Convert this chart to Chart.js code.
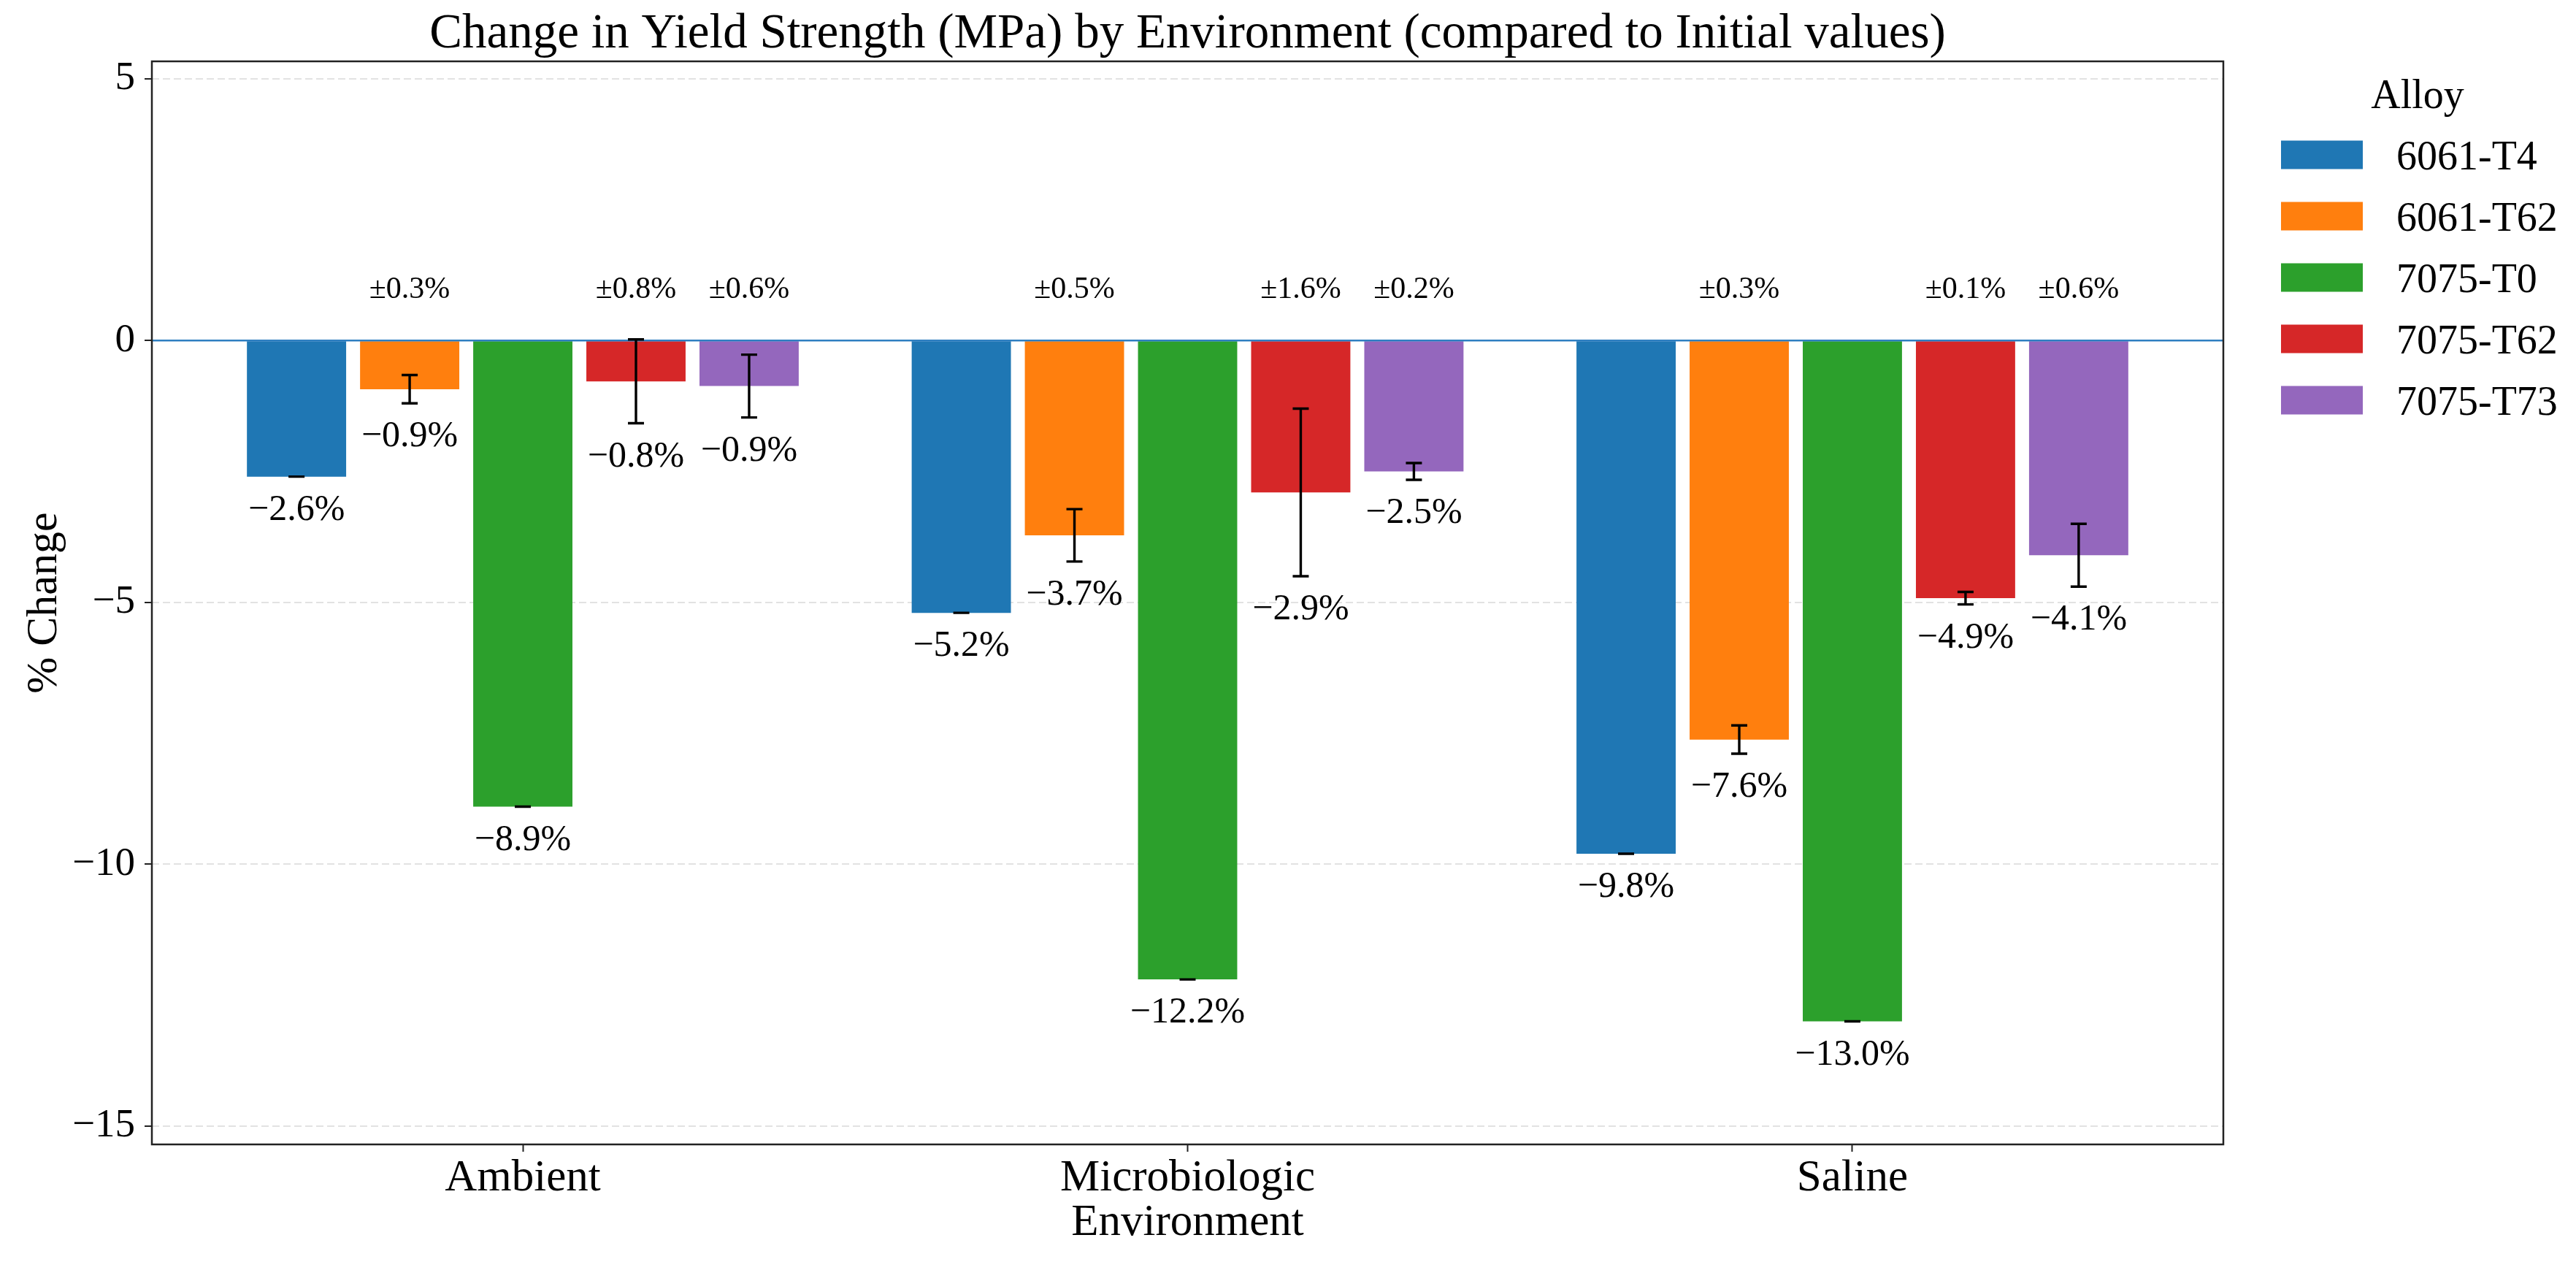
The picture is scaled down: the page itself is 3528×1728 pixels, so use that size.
<!DOCTYPE html>
<html>
<head>
<meta charset="utf-8">
<script src="https://cdn.jsdelivr.net/npm/chart.js@4.4.0/dist/chart.umd.min.js"></script>
<style>
  html, body { margin: 0; padding: 0; background: #ffffff; }
  canvas { display: block; }
</style>
</head>
<body>
<canvas id="c" width="3528" height="1728" style="width:3528px;height:1728px"></canvas>
<script>
// ---------------- data ----------------
const chartTitle = 'Change in Yield Strength (MPa) by Environment (compared to Initial values)';
const xTitle = 'Environment';
const yTitle = '% Change';
const legendTitle = 'Alloy';
const environments = ['Ambient', 'Microbiologic', 'Saline'];
const alloys = ['6061-T4', '6061-T62', '7075-T0', '7075-T62', '7075-T73'];
const colors = ['#1f77b4', '#ff7f0e', '#2ca02c', '#d62728', '#9467bd'];

const change_6061_T4  = [-2.6, -5.2, -9.8];
const change_6061_T62 = [-0.93, -3.72, -7.62];
const change_7075_T0  = [-8.9, -12.2, -13.0];
const change_7075_T62 = [-0.78, -2.9, -4.92];
const change_7075_T73 = [-0.87, -2.5, -4.1];

const err_6061_T4  = [0, 0, 0];
const err_6061_T62 = [0.27, 0.5, 0.27];
const err_7075_T0  = [0, 0, 0];
const err_7075_T62 = [0.8, 1.6, 0.12];
const err_7075_T73 = [0.6, 0.16, 0.6];

const yTicks = [5, 0, -5, -10, -15];
const yMin = -15.35, yMax = 5.33;

const seriesValues = [change_6061_T4, change_6061_T62, change_7075_T0, change_7075_T62, change_7075_T73];
const seriesErrors = [err_6061_T4, err_6061_T62, err_7075_T0, err_7075_T62, err_7075_T73];

// ---------------- styling ----------------
const FONT = "'Liberation Serif', 'Times New Roman', serif";
const MINUS = '\u2212';
const fmtTick = v => (v < 0 ? MINUS + Math.abs(v) : String(v));
const fmtPct = v => (v < 0 ? MINUS : '') + Math.abs(v).toFixed(1) + '%';

// category scale with matplotlib-like side margins
class PaddedCategoryScale extends Chart.CategoryScale {
  static id = 'paddedCategory';
  static defaults = Chart.CategoryScale.defaults;
  buildTicks() {
    const t = super.buildTicks();
    this._startValue -= 0.058;
    this._valueRange += 0.116;
    return t;
  }
}
Chart.register(PaddedCategoryScale);

const deco = {
  id: 'deco',
  afterDatasetsDraw(chart) {
    const { ctx, chartArea: a, scales: { y } } = chart;
    ctx.save();
    // zero reference line
    const y0 = y.getPixelForValue(0);
    ctx.strokeStyle = '#2f7fc1';
    ctx.lineWidth = 2.5;
    ctx.beginPath(); ctx.moveTo(a.left, y0); ctx.lineTo(a.right, y0); ctx.stroke();

    chart.data.datasets.forEach((ds, i) => {
      const meta = chart.getDatasetMeta(i);
      meta.data.forEach((bar, j) => {
        const v = ds.data[j];
        const e = ds.errors[j];
        const x = bar.x;
        const yLo = y.getPixelForValue(v - e);
        const yHi = y.getPixelForValue(v + e);
        // error bar
        ctx.strokeStyle = '#000';
        ctx.lineWidth = 3.4;
        ctx.beginPath();
        ctx.moveTo(x, yLo); ctx.lineTo(x, yHi);
        ctx.moveTo(x - 11, yLo); ctx.lineTo(x + 11, yLo);
        ctx.moveTo(x - 11, yHi); ctx.lineTo(x + 11, yHi);
        ctx.stroke();
        // value label
        ctx.fillStyle = '#000';
        ctx.textAlign = 'center';
        ctx.textBaseline = 'middle';
        ctx.font = '50px ' + FONT;
        ctx.fillText(fmtPct(v), x, yLo + 46);
        // error label
        if (e > 0) {
          ctx.font = '42px ' + FONT;
          ctx.fillText('\u00B1' + e.toFixed(1) + '%', x, y.getPixelForValue(0.96));
        }
      });
    });
    ctx.restore();
  },
  afterDraw(chart) {
    const { ctx, chartArea: a } = chart;
    ctx.save();
    // frame
    ctx.strokeStyle = '#222';
    ctx.lineWidth = 2.5;
    ctx.strokeRect(a.left, a.top, a.right - a.left, a.bottom - a.top);
    // title
    ctx.fillStyle = '#000';
    ctx.textAlign = 'center';
    ctx.textBaseline = 'alphabetic';
    ctx.font = '67px ' + FONT;
    ctx.fillText(chartTitle, (a.left + a.right) / 2, 65);
    // legend
    ctx.font = '56px ' + FONT;
    ctx.fillText(legendTitle, a.right + 266, 148);
    ctx.textAlign = 'left';
    chart.data.datasets.forEach((ds, i) => {
      const cy = 212 + i * 84;
      ctx.fillStyle = ds.backgroundColor;
      ctx.fillRect(a.right + 79, cy - 19.5, 112, 39);
      ctx.fillStyle = '#000';
      ctx.fillText(ds.label, a.right + 237, cy + 19.5);
    });
    ctx.restore();
  }
};

const datasets = alloys.map((name, i) => ({
  label: name,
  data: seriesValues[i],
  errors: seriesErrors[i],
  backgroundColor: colors[i],
  borderWidth: 0,
  categoryPercentage: 0.851,
  barPercentage: 0.877
}));

new Chart(document.getElementById('c'), {
  type: 'bar',
  data: { labels: environments, datasets },
  options: {
    responsive: false,
    animation: false,
    devicePixelRatio: 1,
    layout: { padding: { left: 0, top: 84, right: 483, bottom: 0 } },
    plugins: {
      legend: { display: false },
      title: { display: false },
      tooltip: { enabled: false }
    },
    scales: {
      x: {
        type: 'paddedCategory',
        offset: true,
        afterFit: s => { s.height = 161; },
        ticks: { font: { family: FONT, size: 61 }, color: '#000', padding: 0, maxRotation: 0, autoSkip: false },
        grid: { display: true, drawOnChartArea: false, offset: false, tickLength: 10, tickColor: '#222', tickWidth: 2 },
        border: { display: false },
        title: { display: true, text: xTitle, font: { family: FONT, size: 61 }, color: '#000', padding: { top: 0, bottom: 16 } }
      },
      y: {
        min: yMin,
        max: yMax,
        afterBuildTicks: s => { s.ticks = yTicks.map(v => ({ value: v })); },
        afterFit: s => { s.width = 208; },
        ticks: { font: { family: FONT, size: 55 }, color: '#000', padding: 13, callback: v => fmtTick(v) },
        grid: { color: '#e2e2e2', lineWidth: 2, tickLength: 10, tickColor: '#222', tickWidth: 2, tickBorderDash: [] },
        border: { display: false, dash: [10, 5] },
        title: { display: true, text: yTitle, font: { family: FONT, size: 60 }, color: '#000', padding: { top: 25, bottom: 0 } }
      }
    }
  },
  plugins: [deco]
});
</script>
</body>
</html>
